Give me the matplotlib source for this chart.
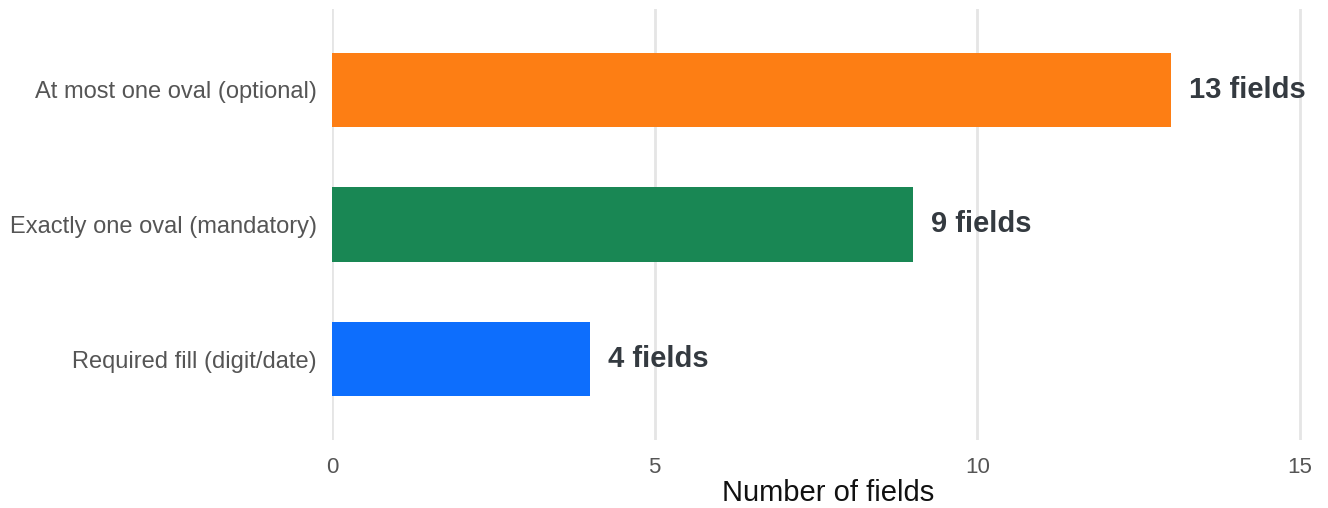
import matplotlib
matplotlib.use("Agg")
import matplotlib.pyplot as plt

categories = ["Required fill (digit/date)", "Exactly one oval (mandatory)", "At most one oval (optional)"]
values = [4, 9, 13]
colors = ["#0d6efd", "#198754", "#fd7e14"]
bar_labels = ["4 fields", "9 fields", "13 fields"]
xticks = [0, 5, 10, 15]

plt.rcParams['font.family'] = ['Liberation Sans', 'DejaVu Sans']

fig = plt.figure(figsize=(13.28, 5.08), dpi=100)
ax = fig.add_axes([0.25, 0.1339, 0.747, 0.8484])

y = list(range(len(categories)))
ax.barh(y, values, height=0.55, color=colors, zorder=3)
for yi, v, lab in zip(y, values, bar_labels):
    ax.text(v + 0.28, yi, lab, va='center', ha='left', fontsize=21, fontweight='bold',
            color='#343a40', clip_on=False, zorder=4)

ax.set_xlim(0, 15.37)
ax.set_ylim(-0.6, 2.6)
ax.set_yticks(y)
ax.set_yticklabels(categories, fontsize=17, color='#555555')
ax.set_xticks(xticks)
ax.set_xticklabels([str(t) for t in xticks], fontsize=16, color='#555555')
ax.tick_params(axis='x', length=0, pad=12)
ax.tick_params(axis='y', length=0, pad=11)
ax.grid(axis='x', color='#e5e5e5', linewidth=2, zorder=0)
for s in ax.spines.values():
    s.set_visible(False)
ax.set_xlabel("Number of fields", fontsize=21, color='#111111', labelpad=1)

fig.savefig("out.png", dpi=100)
